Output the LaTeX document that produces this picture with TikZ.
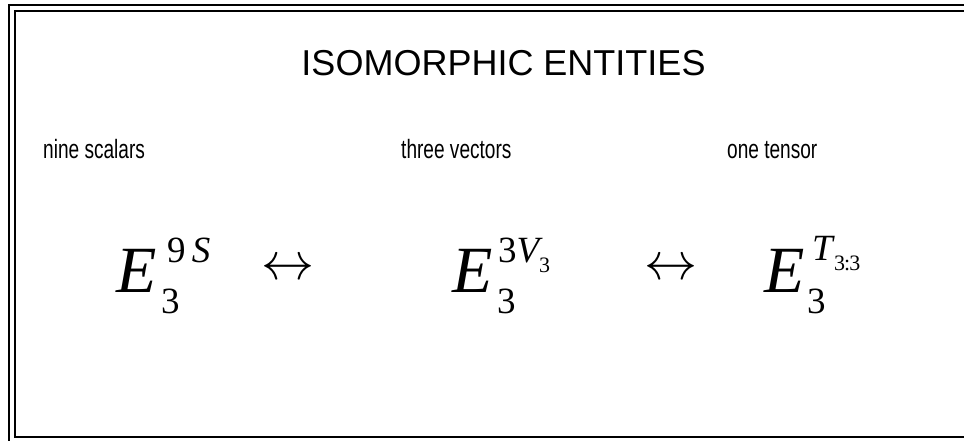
\documentclass[tikz,border=0pt]{standalone}
\usepackage{graphicx}
\usepackage{fontspec}
\setmainfont{Liberation Sans}
\newfontfamily\tms{Liberation Serif}
\newcommand{\narrowlbl}[1]{\scalebox{0.72}[1]{#1}}
\begin{document}
\begin{tikzpicture}[x=1pt,y=-1pt,
  frame/.style={draw=black,line width=2pt},
  lbl/.style={anchor=base west,inner sep=0pt,font=\fontsize{26.5}{27}\selectfont},
  bigE/.style={anchor=base west,inner sep=0pt,font=\tms\itshape\fontsize{66}{66}\selectfont},
  scr/.style={anchor=base west,inner sep=0pt,font=\tms\fontsize{37}{37}\selectfont},
  sscr/.style={anchor=base west,inner sep=0pt,font=\tms\fontsize{22}{22}\selectfont},
  arr/.style={anchor=center,inner sep=0pt}]
\useasboundingbox (0,0) rectangle (964,441);
\clip (0,0) rectangle (964,441);
\fill[white] (0,0) rectangle (964,441);
\draw[frame] (9,5) rectangle (980,450);
\draw[frame] (14.7,10.7) rectangle (975,436.5);
\node[anchor=base,inner sep=0pt,font=\fontsize{36}{36}\selectfont] (title) at (503.5,76) {ISOMORPHIC ENTITIES};
\node[lbl] (l1) at (43,159) {\narrowlbl{nine scalars}};
\node[lbl] (l2) at (401,159) {\narrowlbl{three vectors}};
\node[lbl] (l3) at (727,159) {\narrowlbl{one tensor}};
% first
\node[bigE] (e1) at (116,292) {E};
\node[scr] (e1sub) at (161,313) {3};
\node[scr] (e1sup) at (167,262) {9\,{\itshape S}};
\node[arr] (a1) at (288,270) {\scalebox{5.3}{$\leftrightarrow$}};
% second
\node[bigE] (e2) at (452,292) {E};
\node[scr] (e2sub) at (497,313) {3};
\node[scr] (e2sup) at (498,262) {3{\itshape V}};
\node[sscr] (e2ss) at (539,272) {3};
\node[arr] (a2) at (671,270) {\scalebox{5.3}{$\leftrightarrow$}};
% third
\node[bigE] (e3) at (764,292) {E};
\node[scr] (e3sub) at (807,313) {3};
\node[scr] (e3sup) at (812,260) {\itshape T};
\node[sscr] (e3ss) at (834,270) {3\kern-1pt:\kern-1pt3};
\end{tikzpicture}
\end{document}
